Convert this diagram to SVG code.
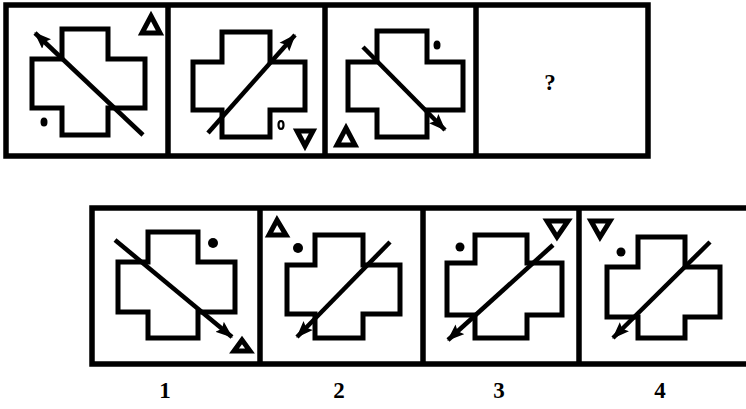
<svg xmlns="http://www.w3.org/2000/svg" width="746" height="409" viewBox="0 0 746 409">
<defs>
<style>
.frame{fill:none;stroke:#000;stroke-width:5.5}
.cross{fill:#fff;stroke:#000;stroke-width:5;stroke-linejoin:miter}
.arr{fill:none;stroke:#000;stroke-width:4.5;stroke-linecap:butt}
.tri{fill:#fff;stroke:#000;stroke-width:5;stroke-linejoin:miter}
.dot{fill:#000}
.lbl{font-family:"Liberation Serif","DejaVu Serif",serif;font-weight:bold;font-size:23px;text-anchor:middle;fill:#000}
</style>
<marker id="ah" markerUnits="userSpaceOnUse" markerWidth="18" markerHeight="14" refX="16" refY="7" orient="auto">
<path d="M0,0.5 L17,7 L0,13.5 L3,7 Z" fill="#000"/>
</marker>
</defs>
<rect width="746" height="409" fill="#fff"/>

<g id="frames">
<rect class="frame" x="6" y="5" width="642" height="151"/>
<line class="frame" x1="168" y1="5" x2="168" y2="156"/>
<line class="frame" x1="325" y1="5" x2="325" y2="156"/>
<line class="frame" x1="476" y1="5" x2="476" y2="156"/>
<path class="frame" d="M750,208 H92 V364 H750"/>
<line class="frame" x1="260" y1="208" x2="260" y2="364"/>
<line class="frame" x1="423" y1="208" x2="423" y2="364"/>
<line class="frame" x1="579" y1="208" x2="579" y2="364"/>
</g>

<g id="q1">
<path class="cross" d="M62,29 H108 V59 H145 V108 H108 V135 H62 V108 H32 V59 H62 Z"/>
<polygon class="tri" points="151,16 160,33 142,33"/>
<ellipse class="dot" cx="44" cy="122" rx="3.5" ry="4.5"/>
</g>
<g id="q2">
<path class="cross" d="M222,32 H270 V62 H305 V110 H270 V137 H222 V110 H193 V62 H222 Z"/>
<polygon class="tri" points="297,131 313,131 305,146"/>
<ellipse cx="281" cy="125" rx="2.5" ry="4" fill="#fff" stroke="#000" stroke-width="2.2"/>
</g>
<g id="q3">
<path class="cross" d="M377,31 H427 V62 H463 V110 H427 V137 H377 V110 H348 V62 H377 Z"/>
<polygon class="tri" points="346,128 355,145 337,145"/>
<ellipse class="dot" cx="437" cy="45" rx="3.5" ry="4.5"/>
</g>
<g id="q4">
<text class="lbl" x="550" y="90">?</text>
</g>

<g id="a1">
<path class="cross" d="M148,232 H198 V262 H235 V312 H198 V338 H148 V312 H118 V262 H148 Z"/>
<polygon class="tri" points="242,340 250,351 234,351"/>
<circle class="dot" cx="213" cy="243" r="5"/>
</g>
<g id="a2">
<path class="cross" d="M315,235 H363 V265 H400 V314 H363 V338 H315 V314 H287 V265 H315 Z"/>
<polygon class="tri" points="277,220 286,235 269,235"/>
<circle class="dot" cx="298" cy="248" r="5"/>
</g>
<g id="a3">
<path class="cross" d="M475,235 H527 V263 H562 V315 H527 V338 H475 V315 H447 V263 H475 Z"/>
<polygon class="tri" points="547,221 568,221 557,237"/>
<circle class="dot" cx="460" cy="247" r="4.5"/>
</g>
<g id="a4">
<path class="cross" d="M638,237 H685 V267 H720 V317 H685 V338 H638 V317 H607 V267 H638 Z"/>
<polygon class="tri" points="591,221 610,221 600,237"/>
<circle class="dot" cx="621" cy="252" r="4.5"/>
</g>

<g id="connectors">
<line class="arr" x1="143" y1="135" x2="35" y2="33" marker-end="url(#ah)"/>
<line class="arr" x1="208" y1="133" x2="295" y2="35" marker-end="url(#ah)"/>
<line class="arr" x1="363" y1="47" x2="445" y2="130" marker-end="url(#ah)"/>
<line class="arr" x1="115" y1="240" x2="232" y2="337" marker-end="url(#ah)"/>
<line class="arr" x1="390" y1="242" x2="297" y2="337" marker-end="url(#ah)"/>
<line class="arr" x1="553" y1="245" x2="448" y2="340" marker-end="url(#ah)"/>
<line class="arr" x1="710" y1="242" x2="613" y2="338" marker-end="url(#ah)"/>
</g>

<g id="labels">
<text class="lbl" x="165" y="398">1</text>
<text class="lbl" x="339" y="398">2</text>
<text class="lbl" x="499" y="398">3</text>
<text class="lbl" x="660" y="398">4</text>
</g>
</svg>
